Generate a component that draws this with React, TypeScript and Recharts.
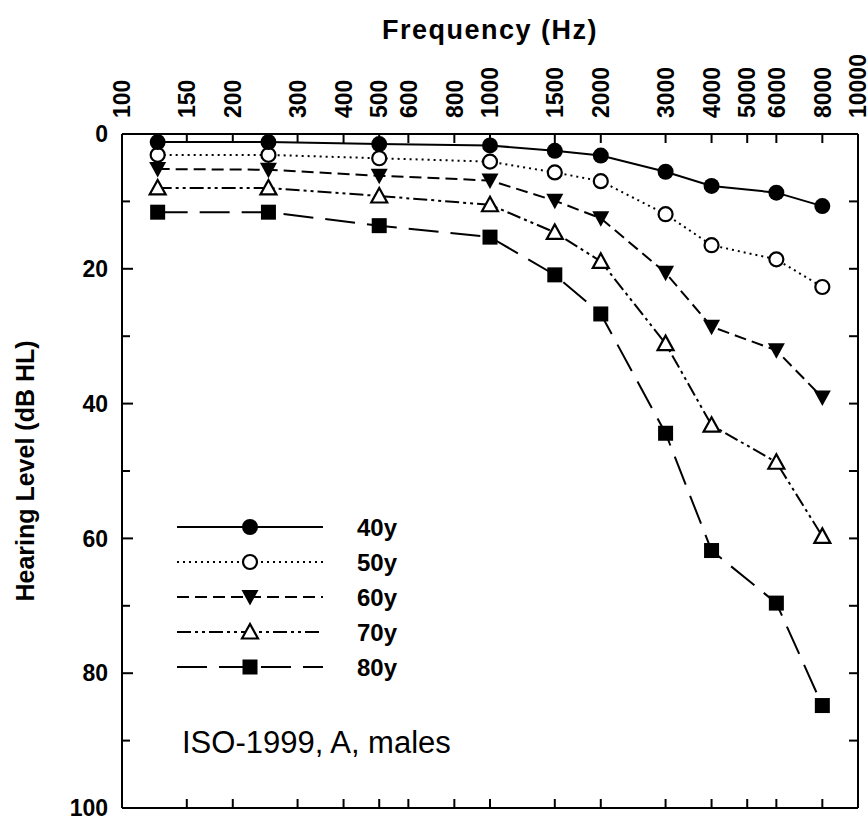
import React from 'react';
import { LineChart, Line, XAxis, YAxis, Legend, Label } from 'recharts';

// frequencies (Hz) and hearing levels (dB HL) per age group
const frequencies = [125, 250, 500, 1000, 1500, 2000, 3000, 4000, 6000, 8000];
const hl40 = [1.2, 1.2, 1.5, 1.7, 2.5, 3.2, 5.6, 7.7, 8.7, 10.7];
const hl50 = [3.1, 3.1, 3.6, 4.1, 5.7, 7.0, 11.9, 16.5, 18.6, 22.7];
const hl60 = [5.2, 5.3, 6.2, 6.9, 9.9, 12.5, 20.6, 28.6, 32.1, 39.1];
const hl70 = [8.0, 8.0, 9.2, 10.5, 14.6, 18.9, 31.1, 43.2, 48.7, 59.7];
const hl80 = [11.6, 11.6, 13.6, 15.3, 20.9, 26.7, 44.4, 61.8, 69.6, 84.8];

const freqTicks = [100, 150, 200, 300, 400, 500, 600, 800, 1000, 1500, 2000, 3000, 4000, 5000, 6000, 8000, 10000];
const levelTicks = [0, 10, 20, 30, 40, 50, 60, 70, 80, 90, 100];
const labelledLevels = [0, 20, 40, 60, 80, 100];
const rightTicks = [10, 20, 30, 40, 50, 60, 70, 80, 90];

const FONT = '"Liberation Sans", Arial, Helvetica, sans-serif';

const data = frequencies.map((f, i) => ({
    f,
    y40: hl40[i],
    y50: hl50[i],
    y60: hl60[i],
    y70: hl70[i],
    y80: hl80[i],
}));

type MarkerKind = 'circle' | 'openCircle' | 'downTri' | 'openTri' | 'square';

// 40y sits on the bottom/right axes (same domains) so the frame's other two sides get drawn
const series: { key: string; name: string; dash?: string; marker: MarkerKind; xId: string; yId: string }[] = [
    { key: 'y40', name: '40y', marker: 'circle', xId: 'bottom', yId: 'right' },
    { key: 'y50', name: '50y', dash: '2 4', marker: 'openCircle', xId: 'top', yId: 'left' },
    { key: 'y60', name: '60y', dash: '12 6', marker: 'downTri', xId: 'top', yId: 'left' },
    { key: 'y70', name: '70y', dash: '14 4 3 4 3 4', marker: 'openTri', xId: 'top', yId: 'left' },
    { key: 'y80', name: '80y', dash: '30 12', marker: 'square', xId: 'top', yId: 'left' },
];

const Marker = ({ kind, cx, cy }: { kind: MarkerKind; cx: number; cy: number }) => {
    if (cx == null || cy == null) return null;
    switch (kind) {
        case 'circle':
            return <circle cx={cx} cy={cy} r={8} fill="#000" />;
        case 'openCircle':
            return <circle cx={cx} cy={cy} r={7} fill="#fff" stroke="#000" strokeWidth={2.2} />;
        case 'downTri':
            return <polygon points={`${cx - 8.5},${cy - 7} ${cx + 8.5},${cy - 7} ${cx},${cy + 8.5}`} fill="#000" />;
        case 'openTri':
            return (
                <polygon
                    points={`${cx},${cy - 8} ${cx - 8},${cy + 6.5} ${cx + 8},${cy + 6.5}`}
                    fill="#fff"
                    stroke="#000"
                    strokeWidth={2.2}
                />
            );
        default:
            return <rect x={cx - 7.5} y={cy - 7.5} width={15} height={15} fill="#000" />;
    }
};

// top axis: ticks pointing into the plot, labels rotated above
const FreqTick = (props: any) => {
    const { x, y, payload } = props;
    return (
        <g>
            <line x1={x} y1={y} x2={x} y2={y + 9} stroke="#000" strokeWidth={2} />
            <text
                x={x}
                y={y - 16}
                transform={`rotate(-90 ${x} ${y - 16})`}
                textAnchor="start"
                dy="0.36em"
                fontSize={23}
                fontWeight="bold"
                fontFamily={FONT}
                fill="#000"
            >
                {payload.value}
            </text>
        </g>
    );
};

const BottomTick = (props: any) => {
    const { x, y } = props;
    return <line x1={x} y1={y} x2={x} y2={y - 9} stroke="#000" strokeWidth={2} />;
};

const LevelTick = (props: any) => {
    const { x, y, payload } = props;
    const major = labelledLevels.includes(payload.value);
    return (
        <g>
            <line x1={x} y1={y} x2={x + (major ? 11 : 8)} y2={y} stroke="#000" strokeWidth={2} />
            {major && (
                <text
                    x={x - 14}
                    y={y}
                    textAnchor="end"
                    dy="0.36em"
                    fontSize={23}
                    fontWeight="bold"
                    fontFamily={FONT}
                    fill="#000"
                >
                    {payload.value}
                </text>
            )}
        </g>
    );
};

const RightTick = (props: any) => {
    const { x, y } = props;
    return <line x1={x} y1={y} x2={x - 9} y2={y} stroke="#000" strokeWidth={2} />;
};

const LegendBox = () => (
    <svg width={320} height={270} style={{ display: 'block', overflow: 'visible' }}>
        {series.map((s, i) => {
            const y = 19 + i * 35;
            return (
                <g key={s.key}>
                    <line x1={9} x2={155} y1={y} y2={y} stroke="#000" strokeWidth={2} strokeDasharray={s.dash} />
                    <Marker kind={s.marker} cx={82} cy={y} />
                    <text x={189} y={y} dy="0.36em" fontSize={24} fontWeight="bold" fontFamily={FONT} fill="#000">
                        {s.name}
                    </text>
                </g>
            );
        })}
        <text x={14} y={245} fontSize={31} fontFamily={FONT} fill="#000">
            ISO-1999, A, males
        </text>
    </svg>
);

export default function App() {
    return (
        <div style={{ position: 'absolute', left: 0, top: 0, width: 868, height: 821, background: '#fff' }}>
            <LineChart
                width={868}
                height={821}
                data={data}
                margin={{ top: 34, right: 9, bottom: 12, left: 42 }}
            >
                <XAxis
                    xAxisId="top"
                    dataKey="f"
                    type="number"
                    scale="log"
                    domain={[100, 10000]}
                    allowDataOverflow
                    orientation="top"
                    height={100}
                    ticks={freqTicks}
                    interval={0}
                    tickLine={false}
                    tickSize={0}
                    tickMargin={0}
                    tick={<FreqTick />}
                    axisLine={{ stroke: '#000', strokeWidth: 2 }}
                >
                    <Label
                        content={(p: any) => {
                            const vb = p.viewBox;
                            return (
                                <text
                                    x={vb.x + vb.width / 2}
                                    y={39}
                                    textAnchor="middle"
                                    fontSize={27}
                                    letterSpacing={1.5}
                                    fontWeight="bold"
                                    fontFamily={FONT}
                                    fill="#000"
                                >
                                    Frequency (Hz)
                                </text>
                            );
                        }}
                    />
                </XAxis>
                <XAxis
                    xAxisId="bottom"
                    dataKey="f"
                    type="number"
                    scale="log"
                    domain={[100, 10000]}
                    allowDataOverflow
                    orientation="bottom"
                    height={1}
                    ticks={freqTicks}
                    interval={0}
                    tickLine={false}
                    tickSize={0}
                    tickMargin={0}
                    tick={<BottomTick />}
                    axisLine={{ stroke: '#000', strokeWidth: 2 }}
                />
                <YAxis
                    yAxisId="left"
                    type="number"
                    domain={[0, 100]}
                    reversed
                    allowDataOverflow
                    width={80}
                    ticks={levelTicks}
                    interval={0}
                    tickLine={false}
                    tickSize={0}
                    tickMargin={0}
                    tick={<LevelTick />}
                    axisLine={{ stroke: '#000', strokeWidth: 2 }}
                >
                    <Label
                        content={(p: any) => {
                            const vb = p.viewBox;
                            const cx = 25;
                            const cy = vb.y + vb.height / 2;
                            return (
                                <text
                                    x={cx}
                                    y={cy}
                                    transform={`rotate(-90 ${cx} ${cy})`}
                                    textAnchor="middle"
                                    dy="0.36em"
                                    fontSize={25}
                                    fontWeight="bold"
                                    fontFamily={FONT}
                                    fill="#000"
                                >
                                    Hearing Level (dB HL)
                                </text>
                            );
                        }}
                    />
                </YAxis>
                <YAxis
                    yAxisId="right"
                    type="number"
                    domain={[0, 100]}
                    reversed
                    allowDataOverflow
                    orientation="right"
                    width={1}
                    ticks={rightTicks}
                    interval={0}
                    tickLine={false}
                    tickSize={0}
                    tickMargin={0}
                    tick={<RightTick />}
                    axisLine={{ stroke: '#000', strokeWidth: 2 }}
                />
                <Legend
                    layout="vertical"
                    align="center"
                    verticalAlign="middle"
                    content={() => <LegendBox />}
                    wrapperStyle={{ position: 'absolute', left: 168, top: 508, width: 320, height: 270 }}
                />
                {series
                    .slice()
                    .reverse()
                    .map((s) => (
                        <Line
                            key={s.key}
                            xAxisId={s.xId}
                            yAxisId={s.yId}
                            dataKey={s.key}
                            name={s.name}
                            stroke="#000"
                            strokeWidth={2}
                            strokeDasharray={s.dash}
                            isAnimationActive={false}
                            dot={(p: any) => <Marker key={`${s.key}-${p.index}`} kind={s.marker} cx={p.cx} cy={p.cy} />}
                            activeDot={false}
                        />
                    ))}
            </LineChart>
        </div>
    );
}
